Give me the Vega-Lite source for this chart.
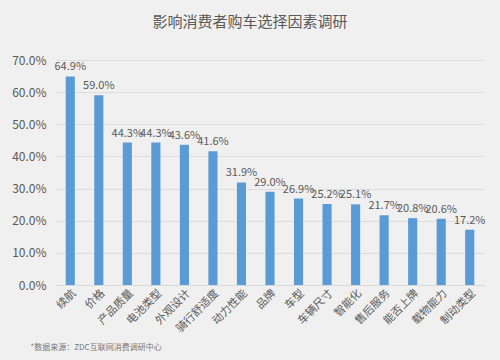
{
  "$schema": "https://vega.github.io/schema/vega-lite/v6.json",
  "width": 428,
  "height": 225,
  "autosize": {"type": "none"},
  "padding": {"left": 56, "top": 60, "right": 16, "bottom": 75},
  "background": "#f0f0f0",
  "config": {
    "view": {"stroke": null},
    "font": "Noto Sans CJK SC"
  },
  "title": {
    "text": "影响消费者购车选择因素调研",
    "fontSize": 15,
    "fontWeight": "normal",
    "color": "#595959",
    "anchor": "middle",
    "dx": -20,
    "offset": 24,
    "font": "Noto Sans CJK SC"
  },
  "data": {
    "values": [
      {"factor": "续航", "value": 0.649},
      {"factor": "价格", "value": 0.590},
      {"factor": "产品质量", "value": 0.443},
      {"factor": "电池类型", "value": 0.443},
      {"factor": "外观设计", "value": 0.436},
      {"factor": "骑行舒适度", "value": 0.416},
      {"factor": "动力性能", "value": 0.319},
      {"factor": "品牌", "value": 0.290},
      {"factor": "车型", "value": 0.269},
      {"factor": "车辆尺寸", "value": 0.252},
      {"factor": "智能化", "value": 0.251},
      {"factor": "售后服务", "value": 0.217},
      {"factor": "能否上牌", "value": 0.208},
      {"factor": "载物能力", "value": 0.206},
      {"factor": "制动类型", "value": 0.172}
    ]
  },
  "encoding": {
    "x": {
      "field": "factor",
      "type": "nominal",
      "sort": null,
      "scale": {"paddingInner": 0.68, "paddingOuter": 0.34},
      "axis": {
        "title": "*数据来源：ZDC互联网消费调研中心",
        "titleFontSize": 8,
        "titleFontWeight": "normal",
        "titleColor": "#777777",
        "titleAnchor": "start",
        "titleAlign": "left",
        "titleX": -26,
        "titleY": 58,
        "labelAngle": -45,
        "labelFontSize": 11,
        "labelColor": "#595959",
        "labelPadding": 2,
        "ticks": false,
        "domainColor": "#d9d9d9"
      }
    },
    "y": {
      "field": "value",
      "type": "quantitative",
      "scale": {"domain": [0, 0.7]},
      "axis": {
        "title": null,
        "values": [0, 0.1, 0.2, 0.3, 0.4, 0.5, 0.6, 0.7],
        "format": ".1%",
        "labelFontSize": 12,
        "labelColor": "#595959",
        "labelPadding": 10,
        "ticks": false,
        "domain": false,
        "gridColor": "#dcdcdc"
      }
    }
  },
  "layer": [
    {"mark": {"type": "bar", "color": "#5b9bd5"}},
    {
      "mark": {"type": "text", "dy": -9, "fontSize": 11, "color": "#595959"},
      "encoding": {"text": {"field": "value", "type": "quantitative", "format": ".1%"}}
    }
  ]
}
